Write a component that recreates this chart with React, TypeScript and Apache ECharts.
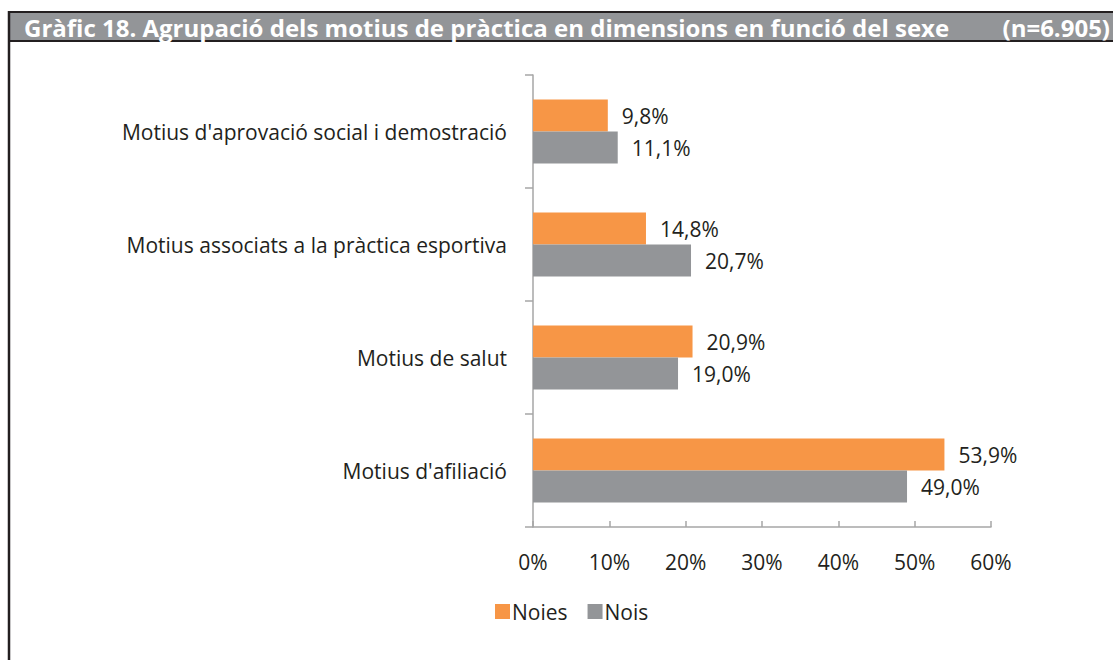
import React, { useEffect, useRef } from "react";
import * as echarts from "echarts";

const categories = [
  "Motius d'aprovació social i demostració",
  "Motius associats a la pràctica esportiva",
  "Motius de salut",
  "Motius d'afiliació",
];
const noies = [9.8, 14.8, 20.9, 53.9];
const nois = [11.1, 20.7, 19.0, 49.0];
const seriesNames = ["Noies", "Nois"];
const title = "Gràfic 18. Agrupació dels motius de pràctica en dimensions en funció del sexe";
const sampleNote = "(n=6.905)";

const fmt = (v: number) => v.toFixed(1).replace(".", ",") + "%";

export default function App() {
  const ref = useRef<HTMLDivElement>(null);
  useEffect(() => {
    if (!ref.current) return;
    const chart = echarts.init(ref.current, null, { renderer: "svg" });
    const font = "'Open Sans', sans-serif";
    const textColor = "#231f20";
    const fs = 21;
    const label = {
      show: true,
      position: "right",
      distance: 14,
      fontFamily: font,
      fontSize: fs,
      color: textColor,
      formatter: (p: any) => fmt(p.value),
    };
    chart.setOption({
      animation: false,
      backgroundColor: "#ffffff",
      graphic: [
        {
          type: "rect",
          shape: { x: 9, y: 12, width: 1120, height: 29 },
          style: { fill: "#939598", stroke: "#231f20", lineWidth: 2 },
          z: 10,
        },
        {
          type: "line",
          shape: { x1: 9, y1: 11, x2: 9, y2: 660 },
          style: { stroke: "#231f20", lineWidth: 2.5 },
          z: 10,
        },
        {
          type: "text",
          x: 24,
          y: 27,
          style: {
            text: title,
            fill: "#ffffff",
            font: `bold 24px 'Open Sans', sans-serif`,
            textVerticalAlign: "middle",
            textAlign: "left",
          },
          z: 11,
        },
        {
          type: "text",
          x: 1110,
          y: 27,
          style: {
            text: sampleNote,
            fill: "#ffffff",
            font: `bold 24px 'Open Sans', sans-serif`,
            textVerticalAlign: "middle",
            textAlign: "right",
          },
          z: 11,
        },
      ],
      legend: {
        data: seriesNames,
        left: 490,
        top: 596,
        itemWidth: 15,
        itemHeight: 15,
        itemGap: 20,
        icon: "rect",
        textStyle: { fontFamily: font, fontSize: fs, color: textColor, padding: [0, 0, 0, -3] },
      },
      grid: { left: 533, right: 122, top: 75, bottom: 133, containLabel: false },
      xAxis: {
        type: "value",
        min: 0,
        max: 60,
        interval: 10,
        axisLine: { show: true, lineStyle: { color: "#a6a6a6", width: 1.5 } },
        axisTick: { show: true, length: 6, inside: true, lineStyle: { color: "#a6a6a6", width: 1.5 } },
        splitLine: { show: false },
        axisLabel: {
          formatter: (v: number) => v + "%",
          fontFamily: font,
          fontSize: fs,
          color: textColor,
          margin: 24,
        },
      },
      yAxis: {
        type: "category",
        data: categories,
        inverse: true,
        axisLine: { show: true, lineStyle: { color: "#a6a6a6", width: 1.5 } },
        axisTick: { show: true, length: 8, lineStyle: { color: "#a6a6a6", width: 1.5 } },
        axisLabel: { fontFamily: font, fontSize: fs, color: textColor, margin: 26 },
      },
      series: [
        {
          name: seriesNames[0],
          type: "bar",
          data: noies,
          itemStyle: { color: "#f79646" },
          barWidth: 32,
          barGap: "0%",
          barCategoryGap: "43%",
          label,
        },
        {
          name: seriesNames[1],
          type: "bar",
          data: nois,
          itemStyle: { color: "#939598" },
          barWidth: 32,
          barGap: "0%",
          barCategoryGap: "43%",
          label,
        },
      ],
    });
    return () => chart.dispose();
  }, []);
  return (
    <div
      ref={ref}
      style={{ position: "fixed", left: 0, top: 0, width: 1113, height: 660 }}
    />
  );
}
